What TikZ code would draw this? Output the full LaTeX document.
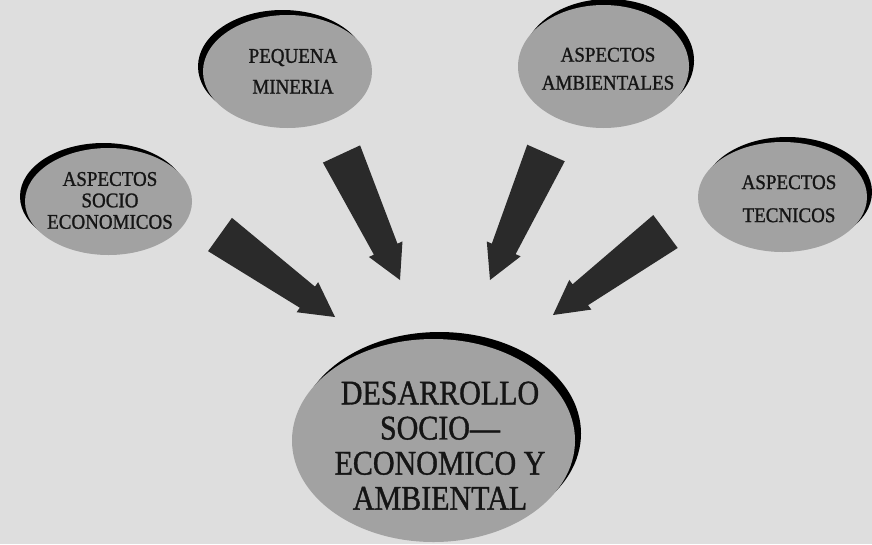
\documentclass[tikz,border=0pt]{standalone}
\usepackage{fontspec}
\setmainfont{Liberation Serif}
\newfontfamily\heavyserif[FakeBold=1.2]{Liberation Serif}
\usetikzlibrary{calc,shapes.geometric,shadows}
\definecolor{bg}{HTML}{DEDEDE}
\definecolor{bubblefill}{HTML}{A2A2A2}
\definecolor{arrowfill}{HTML}{2A2A2A}
\definecolor{ink}{HTML}{151515}
\tikzset{
  bubble/.style={ellipse, fill=bubblefill, inner sep=0pt},
  sh/.style 2 args={drop shadow={shadow xshift=#1pt, shadow yshift=#2pt, opacity=1, fill=black}},
  lbl/.style={align=center, text=ink, inner sep=0pt},
}
% vertically stretched multi-line label: #1 size, #2 skip, #3 stretch, #4 text
\newcommand{\stlabel}[4]{\scalebox{1}[#3]{\heavyserif\fontsize{#1}{#2}\selectfont
  \renewcommand{\arraystretch}{1}\begin{tabular}{@{}c@{}}#4\end{tabular}}}
\newcommand{\blockarr}[3]{%
  \coordinate (#3h) at ($(#2)!34pt!(#1)$);
  \fill[arrowfill] ($(#1)!20.5pt!90:(#2)$) -- ($(#3h)!13pt!90:(#2)$) -- ($(#3h)!18.5pt!90:(#2)$) -- (#2)
    -- ($(#3h)!18.5pt!-90:(#2)$) -- ($(#3h)!13pt!-90:(#2)$) -- ($(#1)!20.5pt!-90:(#2)$) -- cycle;
}
\begin{document}
\begin{tikzpicture}[x=1pt,y=-1pt]
\fill[bg] (0,0) rectangle (872,544);
\useasboundingbox (0,0) rectangle (872,544);

% ellipses
\node[bubble, sh={-5}{5}, minimum width=169pt, minimum height=113pt] (pm) at (287.5,71.5) {};
\node[bubble, sh={-5}{5}, minimum width=167pt, minimum height=107pt] (ase) at (108.5,201.5) {};
\node[bubble, sh={5}{6}, minimum width=171pt, minimum height=123pt] (aa) at (603.5,66.5) {};
\node[bubble, sh={5}{5}, minimum width=169pt, minimum height=110pt] (at) at (782.5,197) {};
\node[bubble, sh={6}{7}, minimum width=283pt, minimum height=203pt] (dse) at (433.5,440.5) {};

% labels
\node[lbl] (pmt) at (293,72) {\stlabel{19}{28}{1.1}{PEQUENA\\MINERIA}};
\node[lbl] (aset) at (110,203) {\stlabel{19}{19.5}{1.1}{ASPECTOS\\SOCIO\\ECONOMICOS}};
\node[lbl] (aat) at (608,70) {\stlabel{19}{25.5}{1.1}{ASPECTOS\\AMBIENTALES}};
\node[lbl] (att) at (789,199) {\stlabel{19}{30}{1.1}{ASPECTOS\\TECNICOS}};
\node[lbl] (dset) at (440,450) {\stlabel{30}{30.5}{1.15}{DESARROLLO\\SOCIO—\\ECONOMICO Y\\AMBIENTAL}};

% block arrows
\coordinate (t1) at (220,234.5); \coordinate (p1) at (335,317);
\coordinate (t2) at (341.5,154); \coordinate (p2) at (400,280);
\coordinate (t3) at (546,153);   \coordinate (p3) at (490,280);
\coordinate (t4) at (665.5,231.5); \coordinate (p4) at (553,315);
\blockarr{t1}{p1}{a1}
\blockarr{t2}{p2}{a2}
\blockarr{t3}{p3}{a3}
\blockarr{t4}{p4}{a4}
\end{tikzpicture}
\end{document}
